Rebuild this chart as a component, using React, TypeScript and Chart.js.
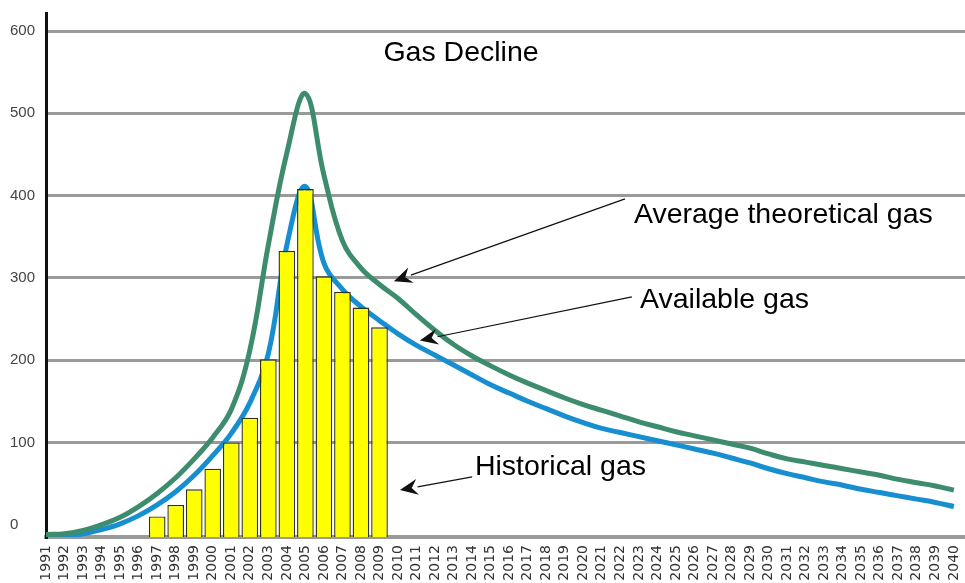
import React, { useEffect, useRef } from "react";
import { Chart, registerables } from "chart.js";

Chart.register(...registerables);

// Years on the horizontal axis
const years = [
  1991, 1992, 1993, 1994, 1995, 1996, 1997, 1998, 1999, 2000,
  2001, 2002, 2003, 2004, 2005, 2006, 2007, 2008, 2009, 2010,
  2011, 2012, 2013, 2014, 2015, 2016, 2017, 2018, 2019, 2020,
  2021, 2022, 2023, 2024, 2025, 2026, 2027, 2028, 2029, 2030,
  2031, 2032, 2033, 2034, 2035, 2036, 2037, 2038, 2039, 2040,
];

// Historical gas (bars), only 1997–2009 recorded
const historicalGas = [
  null, null, null, null, null, null, 10, 24, 43, 68,
  100, 130, 201, 333, 408, 302, 283, 264, 240, null,
  null, null, null, null, null, null, null, null, null, null,
  null, null, null, null, null, null, null, null, null, null,
  null, null, null, null, null, null, null, null, null, null,
];

// Available gas (blue curve)
const availableGas = [
  -14, -13, -11, -6, 1, 11, 24, 40, 60, 84,
  111, 148, 208, 340, 411, 318, 286, 265, 248, 232,
  218, 206, 194, 182, 170, 160, 150, 141, 132, 124,
  117, 112, 107, 102, 97, 92, 87, 81, 75, 68,
  62, 57, 52, 48, 43, 39, 35, 31, 27, 22,
];

// Average theoretical gas (green curve)
const theoreticalGas = [
  -12, -11, -7, 0, 9, 22, 38, 57, 80, 106,
  140, 212, 340, 452, 524, 425, 345, 312, 292, 275,
  255, 236, 219, 205, 193, 182, 172, 163, 154, 146,
  139, 132, 125, 119, 113, 108, 103, 98, 93, 86,
  80, 76, 72, 68, 64, 60, 55, 51, 47, 42,
];

const yTickValues = [0, 100, 200, 300, 400, 500, 600];

const chartTitle = "Gas Decline";
const titleAt = [2013.4, 573];

// Callout labels: text, left anchor (year, value)
const noteTexts = ["Average theoretical gas", "Available gas", "Historical gas"];
const noteX = [2022.73, 2023.06, 2014.15];
const noteY = [376, 273, 70];

// Callout arrows: tail (year, value) -> tip (year, value)
const arrowTailX = [2022.25, 2022.62, 2014.0];
const arrowTailY = [396, 277, 58];
const arrowTipX = [2009.78, 2011.18, 2010.1];
const arrowTipY = [296, 224, 42];

const FONT = '"Liberation Sans", Arial, Helvetica, sans-serif';

const notesPlugin = {
  id: "gasNotes",
  afterDraw(chart: any) {
    const { ctx } = chart;
    const x = chart.scales.x;
    const y = chart.scales.y;
    ctx.save();
    ctx.fillStyle = "#000";
    ctx.textBaseline = "middle";
    ctx.font = `28.5px ${FONT}`;
    ctx.textAlign = "center";
    ctx.fillText(chartTitle, x.getPixelForValue(titleAt[0]), y.getPixelForValue(titleAt[1]));
    ctx.textAlign = "left";
    noteTexts.forEach((t, i) => {
      ctx.fillText(t, x.getPixelForValue(noteX[i]), y.getPixelForValue(noteY[i]));
    });

    ctx.strokeStyle = "#111";
    ctx.lineWidth = 1.2;
    arrowTailX.forEach((_, i) => {
      const x0 = x.getPixelForValue(arrowTailX[i]);
      const y0 = y.getPixelForValue(arrowTailY[i]);
      const x1 = x.getPixelForValue(arrowTipX[i]);
      const y1 = y.getPixelForValue(arrowTipY[i]);
      const ang = Math.atan2(y1 - y0, x1 - x0);
      const len = 18;
      const half = 8;
      const bx = x1 - Math.cos(ang) * len;
      const by = y1 - Math.sin(ang) * len;
      ctx.beginPath();
      ctx.moveTo(x0, y0);
      ctx.lineTo(bx, by);
      ctx.stroke();
      ctx.beginPath();
      ctx.moveTo(x1, y1);
      ctx.lineTo(bx - Math.sin(ang) * half, by + Math.cos(ang) * half);
      ctx.lineTo(x1 - Math.cos(ang) * (len - 6), y1 - Math.sin(ang) * (len - 6));
      ctx.lineTo(bx + Math.sin(ang) * half, by - Math.cos(ang) * half);
      ctx.closePath();
      ctx.fillStyle = "#111";
      ctx.fill();
    });
    ctx.restore();
  },
};

export default function App() {
  const canvasRef = useRef<HTMLCanvasElement | null>(null);

  useEffect(() => {
    document.body.style.margin = "0";
    const canvas = canvasRef.current;
    if (!canvas) return;
    const chart = new Chart(canvas, {
      type: "bar",
      data: {
        labels: years,
        datasets: [
          {
            type: "bar",
            label: "Historical gas",
            data: historicalGas,
            backgroundColor: "#ffff00",
            borderColor: "#33331a",
            borderWidth: 1.4,
            base: -15,
            categoryPercentage: 1,
            barPercentage: 0.9,
            order: 0,
          } as any,
          {
            type: "line",
            label: "Available gas",
            data: availableGas,
            borderColor: "#168ecf",
            borderWidth: 5,
            pointRadius: 0,
            fill: false,
            tension: 0.4,
            order: 2,
          },
          {
            type: "line",
            label: "Average theoretical gas",
            data: theoreticalGas,
            borderColor: "#3d8c6e",
            borderWidth: 5,
            pointRadius: 0,
            fill: false,
            tension: 0.4,
            order: 1,
          },
        ],
      },
      options: {
        responsive: false,
        animation: false,
        layout: { padding: { left: 10, top: 12, right: 0, bottom: 0 } },
        plugins: {
          legend: { display: false },
          tooltip: { enabled: false },
          title: { display: false },
        },
        scales: {
          x: {
            type: "linear",
            min: 1991,
            max: 2040.6,
            offset: false,
            grid: { display: true, color: "transparent", drawTicks: false },
            border: { display: true, color: "#9a9a9a", width: 4 },
            afterBuildTicks: (s: any) => {
              s.ticks = years.map((v) => ({ value: v }));
            },
            afterFit: (s: any) => {
              s.height = 46;
              s.paddingLeft = 0;
              s.paddingRight = 0;
            },
            ticks: {
              autoSkip: false,
              maxRotation: 90,
              minRotation: 90,
              padding: 8,
              color: "#333",
              font: { family: '"DejaVu Sans", sans-serif', size: 14 },
              callback: (v: any) => String(v),
            },
          },
          y: {
            type: "linear",
            min: -15,
            max: 622,
            grid: {
              drawTicks: false,
              lineWidth: 3,
              color: (c: any) => (c.tick && c.tick.value === 0 ? "transparent" : "#9a9a9a"),
            },
            border: { display: true, color: "#111", width: 3 },
            afterBuildTicks: (s: any) => {
              s.ticks = yTickValues.map((v) => ({ value: v }));
            },
            afterFit: (s: any) => {
              s.width = 36;
            },
            ticks: {
              crossAlign: "far",
              padding: 4,
              color: "#444",
              font: { family: FONT, size: 15 },
              callback: (v: any) => String(v),
            },
          },
        },
      },
      plugins: [notesPlugin],
    });
    return () => chart.destroy();
  }, []);

  return (
    <div style={{ width: 965, height: 583, overflow: "hidden", background: "#fff" }}>
      <canvas ref={canvasRef} width={965} height={583} />
    </div>
  );
}
